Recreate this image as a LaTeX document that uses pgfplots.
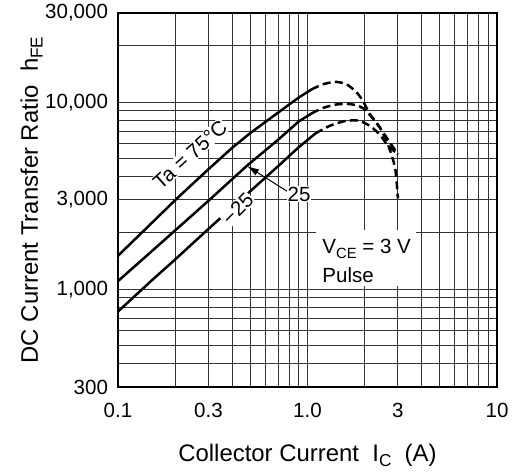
\documentclass[border=0pt]{standalone}
\usepackage{fontspec}
\setmainfont{Liberation Sans}
\usepackage{pgfplots}
\pgfplotsset{compat=1.18}
\usetikzlibrary{arrows.meta}

\newcommand{\ticksize}{\fontsize{10.3}{12}\selectfont}
\newcommand{\labsize}{\fontsize{12}{14}\selectfont}
\newcommand{\sub}[1]{\raisebox{-2.3bp}{\fontsize{0.72em}{1em}\selectfont #1}}

\begin{document}
\begin{tikzpicture}
\path[use as bounding box] (-59bp,-42.5bp) rectangle (200bp,193.5bp);
\begin{axis}[
  at={(0,0)}, anchor=south west,
  width=189.5bp, height=187bp, scale only axis,
  xmode=log, ymode=log,
  xmin=0.1, xmax=10, ymin=300, ymax=30000,
  xtick={0.1,0.3,1,3,10},
  xticklabels={0.1,0.3,1.0,3,10},
  minor xtick={0.2,0.4,0.5,0.6,0.7,0.8,0.9,2,4,5,6,7,8,9},
  ytick={300,1000,3000,10000,30000},
  yticklabels={300,{1,000},{3,000},{10,000},{30,000}},
  minor ytick={400,500,600,700,800,900,2000,4000,5000,6000,7000,8000,9000,20000},
  grid=both,
  grid style={black!80, line width=0.5bp},
  major tick length=0pt, minor tick length=0pt,
  axis line style={line width=1.3bp},
  tick label style={font=\ticksize},
  xticklabel style={yshift=-4.5bp},
  yticklabel style={xshift=-1.5bp},
  label style={font=\labsize},
  xlabel={Collector Current\ \ I\sub{C}\ \ (A)},
  ylabel={DC Current Transfer Ratio\ \ h\sub{FE}},
  xlabel style={at={([yshift=-37.5bp]axis description cs:0.5,0)}, anchor=base},
  ylabel style={at={([xshift=-40bp]axis description cs:0,0.5)}, anchor=base},
  clip=false,
]
% Ta = 75 C
\addplot[line width=1.25bp] coordinates {
  (0.1,1510) (0.15,2250) (0.2,2990) (0.3,4380) (0.4,5700) (0.5,6850)
  (0.7,8800) (0.9,10600) (1.05,11700)};
\addplot[line width=1.25bp, dash pattern=on 4bp off 2.2bp, smooth, tension=0.4] coordinates {
  (1.05,11700) (1.2,12450) (1.4,12850) (1.6,12500) (1.8,11400) (1.95,10250)
  (2.14,8600) (2.41,7330) (2.66,5930) (2.9,4450) (3.0,3060)};
% Ta = 25 C
\addplot[line width=1.25bp] coordinates {
  (0.1,1105) (0.15,1590) (0.2,2060) (0.3,2970) (0.48,4580) (0.7,6300)
  (0.9,7900) (1.05,8700)};
\addplot[line width=1.25bp, dash pattern=on 4bp off 2.2bp, smooth, tension=0.4] coordinates {
  (1.05,8700) (1.2,9300) (1.4,9700) (1.6,9800) (1.8,9650) (1.96,9300)
  (2.19,8300) (2.41,7300) (2.72,6100) (3.0,5250)};
% Ta = -25 C
\addplot[line width=1.25bp] coordinates {
  (0.1,760) (0.15,1110) (0.2,1440) (0.3,2100) (0.5,3350) (0.7,4550)
  (0.9,5750) (1.1,6800)};
\addplot[line width=1.25bp, dash pattern=on 4bp off 2.2bp, smooth, tension=0.4] coordinates {
  (1.1,6800) (1.3,7450) (1.55,7900) (1.8,8000) (2.0,7750) (2.2,7300)
  (2.41,6700) (2.63,5950) (3.0,5250)};

% curve labels
\node[fill=white, inner sep=0.5bp, rotate=42, font=\ticksize] at (axis cs:0.240,5250) {Ta = 75°C};
\node[fill=white, inner sep=0.5bp, rotate=45, font=\ticksize] at (axis cs:0.428,2680) {−25};
\node[fill=white, inner sep=0.5bp, font=\ticksize] at (axis cs:0.902,3222) {25};
\draw[line width=0.5bp, -{Latex[length=6bp,width=3.6bp]}] (axis cs:0.78,3342) -- (axis cs:0.48,4560);

% test conditions
\fill[white] (axis cs:1.109,2084) rectangle (axis cs:3.74,1038);
\node[anchor=base west, inner sep=0pt, font=\ticksize] at (axis cs:1.193,1546) {V\sub{CE} = 3 V};
\node[anchor=base west, inner sep=0pt, font=\ticksize] at (axis cs:1.193,1091) {Pulse};
\end{axis}
\end{tikzpicture}
\end{document}
